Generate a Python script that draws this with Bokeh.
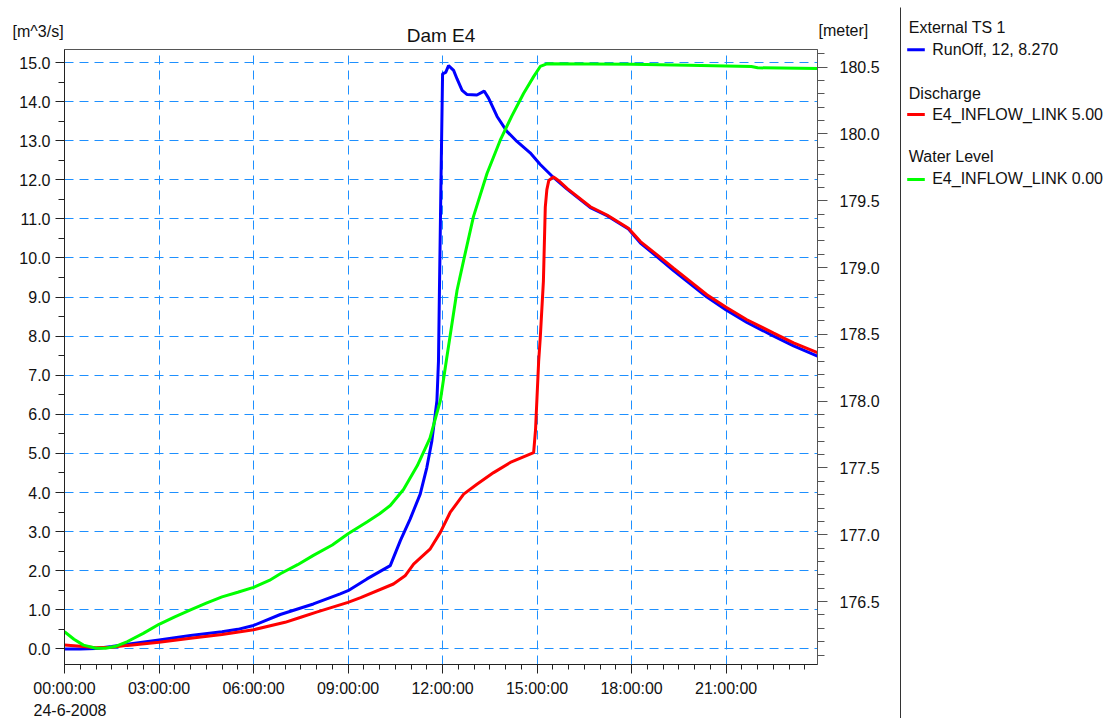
from bokeh.plotting import figure
from bokeh.models import Range1d, LinearAxis, FixedTicker, PrintfTickFormatter
from bokeh.layouts import row, column
from bokeh.core.properties import value
from bokeh.embed import file_html
from bokeh.resources import INLINE

FONT = "Liberation Sans"

# ---------------- data (hours since 24-6-2008 00:00) ----------------
runoff_t = [0.0, 0.5, 1.0, 1.5, 2.0, 3.0, 4.0, 5.0, 5.5, 6.0, 6.85, 7.9, 8.75, 9.0, 9.6,
            10.34, 10.66, 10.97, 11.29, 11.5, 11.66, 11.82, 11.87, 11.9, 11.95, 12.0, 12.1,
            12.19, 12.35, 12.46, 12.62, 12.78, 13.09, 13.32, 13.46, 13.73, 14.04, 14.36, 14.78,
            15.1, 15.52, 15.95, 16.69, 17.22, 17.9, 18.28, 18.81, 19.33, 19.86, 20.39, 21.0,
            21.66, 22.51, 23.14, 23.9]
runoff_q = [0.0, 0.0, 0.01, 0.06, 0.12, 0.23, 0.34, 0.44, 0.5, 0.6, 0.88, 1.15, 1.41, 1.49, 1.79,
            2.13, 2.77, 3.32, 3.96, 4.64, 5.32, 6.34, 7.36, 9.15, 12.0, 14.71, 14.75,
            14.92, 14.8, 14.58, 14.29, 14.18, 14.17, 14.27, 14.09, 13.62, 13.24, 12.98, 12.69,
            12.39, 12.06, 11.76, 11.29, 11.08, 10.74, 10.38, 10.03, 9.68, 9.34, 9.0, 8.67,
            8.35, 8.0, 7.75, 7.49]

discharge_t = [0.0, 0.5, 1.0, 1.5, 2.0, 3.0, 4.0, 5.0, 6.0, 7.0, 7.5, 8.0, 9.0, 9.4, 10.44,
               10.81, 11.08, 11.61, 11.93, 12.24, 12.67, 13.09, 13.62, 14.15, 14.89, 14.95,
               15.05, 15.1, 15.2, 15.26, 15.31, 15.37, 15.52, 15.7, 15.95, 16.69, 17.22, 17.9,
               18.28, 18.81, 19.33, 19.86, 20.39, 21.0, 21.66, 22.51, 23.14, 23.9]
discharge_q = [0.1, 0.07, 0.03, 0.04, 0.09, 0.17, 0.27, 0.37, 0.49, 0.68, 0.81, 0.94, 1.19, 1.31, 1.66,
               1.87, 2.17, 2.56, 2.98, 3.49, 3.96, 4.21, 4.51, 4.77, 5.02, 5.6,
               7.36, 7.95, 9.4, 11.3, 11.75, 11.98, 12.07, 11.97, 11.78, 11.31, 11.10, 10.76,
               10.42, 10.08, 9.74, 9.4, 9.06, 8.74, 8.42, 8.08, 7.83, 7.58]

level_t = [0.0, 0.3, 0.6, 1.0, 1.3, 1.6, 2.0, 2.5, 3.0, 3.5, 4.0, 4.5, 5.0, 5.5, 6.0, 6.5, 6.85,
           7.4, 7.9, 8.5, 9.0, 9.6, 10.0, 10.34, 10.76, 11.2, 11.6, 11.93, 12.12, 12.46, 12.67,
           12.98, 13.41, 13.83, 14.2, 14.57, 14.89, 15.1, 15.31, 18.0, 19.8, 21.8, 22.0, 23.9]
level_m = [176.274, 176.218, 176.174, 176.151, 176.151, 176.163, 176.201, 176.262, 176.330,
           176.386, 176.438, 176.488, 176.535, 176.570, 176.606, 176.658, 176.708, 176.776,
           176.846, 176.923, 177.008, 177.096, 177.157, 177.219, 177.339, 177.518, 177.724,
           178.005, 178.305, 178.830, 179.056, 179.381, 179.704, 179.953, 180.135, 180.303,
           180.429, 180.505, 180.525, 180.522, 180.515, 180.505, 180.495, 180.49]

x_tick_hours = [0, 3, 6, 9, 12, 15, 18, 21]
x_tick_labels = ["00:00:00", "03:00:00", "06:00:00", "09:00:00",
                 "12:00:00", "15:00:00", "18:00:00", "21:00:00"]
q_ticks = list(range(0, 16))
level_ticks = [176.5, 177.0, 177.5, 178.0, 178.5, 179.0, 179.5, 180.0, 180.5]
date_text = "24-6-2008"
title_text = "Dam E4"
left_unit = "[m^3/s]"
right_unit = "[meter]"
legend_headers = ["External TS 1", "Discharge", "Water Level"]
legend_items = ["RunOff, 12, 8.270", "E4_INFLOW_LINK  5.00", "E4_INFLOW_LINK  0.00"]
series_colors = ["#0000FF", "#FF0000", "#00FF00"]

X_END = 23.9
Q_RANGE = (-0.399, 15.333)
LEVEL_RANGE = (176.029, 180.632)

# layout sizes (pixels)
MAIN_W = 898
LEGEND_W = 222
HEADER_H = 49
FRAME_L, FRAME_W, FRAME_H = 64, 753, 615
AXIS_B = 36
FOOTER_H = 18
TOTAL_H = HEADER_H + FRAME_H + AXIS_B + FOOTER_H


def strip(w, h):
    f = figure(frame_width=w, frame_height=h, min_border=0,
               x_range=Range1d(0, w), y_range=Range1d(h, 0),
               output_backend="svg", toolbar_location=None, title=None,
               x_axis_location=None, y_axis_location=None)
    f.outline_line_color = None
    f.grid.visible = False
    try:
        f.frame_align = False
    except AttributeError:
        pass
    return f


txt_kw = dict(text_font=value(FONT), text_font_size="16px", text_color="#111111",
              text_baseline="middle")

# ---------------- header strip (units + title) ----------------
header = strip(MAIN_W, HEADER_H)
header.text(x=[12], y=[30.5], text=[left_unit], **txt_kw)
header.text(x=[818], y=[30.3], text=[right_unit], **txt_kw)
header.text(x=[FRAME_L + FRAME_W / 2], y=[35], text=[title_text], text_align="center",
            text_font=value(FONT), text_font_size="19px", text_color="#111111",
            text_baseline="middle")

# ---------------- main chart ----------------
p = figure(frame_width=FRAME_W, frame_height=FRAME_H,
           min_border_left=FRAME_L, min_border_right=MAIN_W - FRAME_L - FRAME_W,
           min_border_top=0, min_border_bottom=AXIS_B,
           x_range=Range1d(0, X_END), y_range=Range1d(*Q_RANGE),
           output_backend="svg", toolbar_location=None, title=None)
p.outline_line_color = "#555555"

xax = p.xaxis[0]
xax.ticker = FixedTicker(ticks=x_tick_hours, minor_ticks=[i * 0.5 for i in range(48)])
xax.major_label_overrides = dict(zip(x_tick_hours, x_tick_labels))
yax = p.yaxis[0]
yax.ticker = FixedTicker(ticks=q_ticks, minor_ticks=[i * 0.5 for i in range(31)])
yax.formatter = PrintfTickFormatter(format="%.1f")

rax = LinearAxis(y_range_name="level",
                 ticker=FixedTicker(ticks=level_ticks,
                                    minor_ticks=[round(176.1 + 0.1 * i, 1) for i in range(46)]),
                 formatter=PrintfTickFormatter(format="%.1f"))
p.extra_y_ranges = {"level": Range1d(*LEVEL_RANGE)}
p.add_layout(rax, "right")

for ax, col in ((xax, "#222222"), (yax, "#222222"), (rax, "#555555")):
    ax.axis_line_color = col
    ax.major_tick_line_color = col
    ax.minor_tick_line_color = col
    ax.major_tick_in = 0
    ax.minor_tick_in = 0
    ax.major_label_text_font = FONT
    ax.major_label_text_font_size = "16px"
    ax.major_label_text_color = "#111111"
xax.major_tick_out = 9
xax.minor_tick_out = 5
xax.major_label_standoff = 6
yax.major_tick_out = 9
yax.minor_tick_out = 6
yax.major_label_standoff = 5
rax.major_tick_out = 10
rax.minor_tick_out = 7
rax.major_label_standoff = 12

for g in (p.xgrid[0], p.ygrid[0]):
    g.grid_line_color = "#1E90FF"
    g.grid_line_dash = "9 6"
    g.grid_line_width = 1

p.line(runoff_t, runoff_q, line_color=series_colors[0], line_width=3)
p.line(discharge_t, discharge_q, line_color=series_colors[1], line_width=3)
p.line(level_t, level_m, line_color=series_colors[2], line_width=3, y_range_name="level")

# ---------------- footer strip (date under first tick) ----------------
footer = strip(MAIN_W, FOOTER_H)
footer.text(x=[33], y=[9.7], text=[date_text], **txt_kw)

# ---------------- legend panel ----------------
lg = strip(LEGEND_W, TOTAL_H)
lg.segment(x0=[2], y0=[7], x1=[2], y1=[TOTAL_H], line_color="#333333", line_width=1)

header_y = [27.0, 92.5, 156.0]
item_y = [49.2, 113.7, 177.8]
sample_y = [49.3, 114.0, 179.0]
lg.text(x=[10.3] * 3, y=header_y, text=legend_headers, **txt_kw)
lg.segment(x0=[8.7] * 3, y0=sample_y, x1=[26.3] * 3, y1=sample_y,
           line_color=series_colors, line_width=3)
lg.text(x=[33.7] * 3, y=item_y, text=legend_items, **txt_kw)

layout = row(column(header, p, footer), lg)
open("out.html", "w").write(file_html(layout, INLINE))
